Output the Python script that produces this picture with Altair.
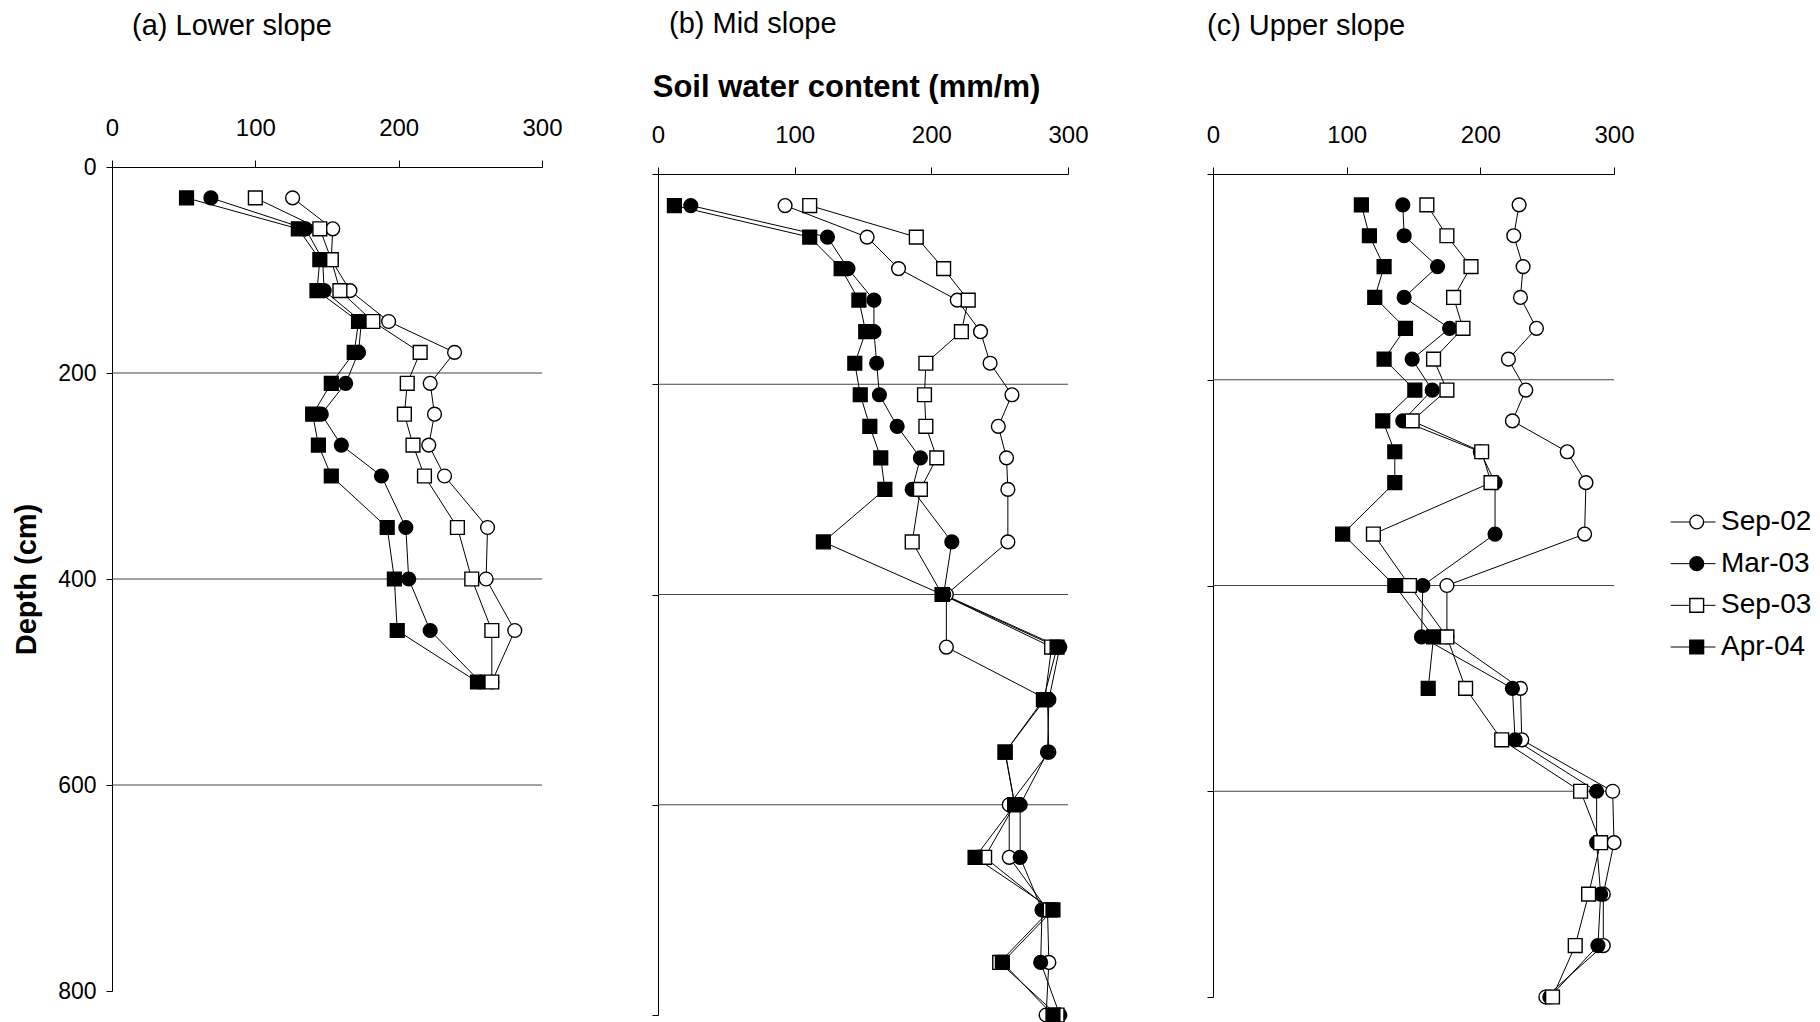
import altair as alt
import pandas as pd

# ---------------- data ----------------
series = ["Sep-02", "Mar-03", "Sep-03", "Apr-04"]
shapes = ["circle", "circle", "square", "square"]
fills = ["white", "black", "white", "black"]

# (a) Lower slope
depth_a = [30, 60, 90, 120, 150, 180, 210, 240, 270, 300, 350, 400, 450, 500]
a_sep02 = [126, 154, 153, 166, 193, 239, 222, 225, 221, 232, 262, 261, 281, 265]
a_mar03 = [69, 135, 147, 148, 174, 172, 163, 146, 160, 188, 205, 207, 222, 257]
a_sep03 = [100, 145, 153, 159, 182, 215, 206, 204, 210, 218, 241, 251, 265, 265]
a_apr04 = [52, 130, 145, 143, 172, 169, 153, 140, 144, 153, 192, 197, 199, 255]

# (b) Mid slope
depth_b = [30, 60, 90, 120, 150, 180, 210, 240, 270, 300,
           350, 400, 450, 500, 550, 600, 650, 700, 750, 800]
b_sep02 = [93, 153, 176, 219, 236, 243, 259, 249, 255, 256,
           256, 211, 211, 285, 286, 257, 257, 285, 286, 284]
b_mar03 = [24, 124, 139, 158, 158, 160, 162, 175, 192, 186,
           215, 209, 294, 286, 285, 265, 265, 281, 280, 294]
b_sep03 = [111, 189, 209, 227, 222, 196, 195, 196, 204, 192,
           186, 208, 288, 283, 254, 261, 239, 287, 250, 292]
b_apr04 = [12, 111, 134, 147, 152, 144, 148, 155, 163, 166,
           121, 208, 292, 282, 254, 261, 232, 289, 252, 289]

# (c) Upper slope
depth_c = depth_b
c_sep02 = [229, 225, 232, 230, 242, 221, 234, 224, 265, 279,
           278, 175, 175, 230, 231, 299, 300, 292, 292, 249]
c_mar03 = [142, 143, 168, 143, 177, 149, 164, 142, 200, 211,
           211, 157, 156, 224, 226, 287, 287, 290, 288, 252]
c_sep03 = [160, 175, 193, 180, 187, 165, 175, 149, 201, 208,
           120, 147, 175, 189, 216, 275, 290, 281, 271, 254]
c_apr04 = [111, 117, 128, 121, 144, 128, 151, 127, 136, 136,
           97, 136, 165, 161]

x_ticks = [0, 100, 200, 300]
y_ticks = [0, 200, 400, 600, 800]
grid_depths = [200, 400, 600]

FONT = "Liberation Sans"


def make_df(depths, cols):
    rows = []
    for s, vals in zip(series, cols):
        for d, v in zip(depths, vals):
            rows.append({"series": s, "depth": d, "swc": v})
    return pd.DataFrame(rows)


df_a = make_df(depth_a, [a_sep02, a_mar03, a_sep03, a_apr04])
df_b = make_df(depth_b, [b_sep02, b_mar03, b_sep03, b_apr04])
df_c = make_df(depth_c, [c_sep02, c_mar03, c_sep03, c_apr04])
grid_df = pd.DataFrame({"depth": grid_depths})

shape_scale = alt.Scale(domain=series, range=shapes)
fill_scale = alt.Scale(domain=series, range=fills)

MSIZE = 190


def panel(df, width, height, yrange, title, title_dx, title_offset,
          y_labels, x_title, x_offset):
    xaxis_kw = dict(orient="top", values=x_ticks, tickSize=7, labelPadding=20,
                    labelFontSize=24, labelFlush=False, grid=False,
                    domainColor="black", tickColor="black", labelColor="black")
    if x_offset:
        xaxis_kw["offset"] = x_offset
    if x_title:
        xaxis_kw.update(title=x_title, titleFontSize=31, titleFontWeight="bold",
                        titlePadding=19.5, titleColor="black", titleX=188)
    else:
        xaxis_kw["title"] = None
    yaxis_kw = dict(orient="left", values=y_ticks, tickSize=6, grid=False,
                    domainColor="black", tickColor="black")
    if y_labels:
        yaxis_kw.update(labels=True, labelFontSize=23, labelPadding=10,
                        labelFlush=False, labelColor="black",
                        title="Depth (cm)", titleFontSize=29,
                        titleFontWeight="bold", titlePadding=16,
                        titleColor="black")
    else:
        yaxis_kw.update(labels=False, title=None)

    xenc = alt.X("swc:Q", scale=alt.Scale(domain=[0, 300], nice=False, zero=False),
                 axis=alt.Axis(**xaxis_kw))
    yenc = alt.Y("depth:Q", scale=alt.Scale(domain=[0, 800], range=yrange,
                                            nice=False, zero=False),
                 axis=alt.Axis(**yaxis_kw))

    grid = alt.Chart(grid_df).mark_rule(color="#444444", strokeWidth=1).encode(y=yenc)
    lines = alt.Chart(df).mark_line(color="black", strokeWidth=1).encode(
        x=xenc, y=yenc, detail="series:N", order=alt.Order("depth:Q"))
    pts = alt.Chart(df).mark_point(filled=True, size=MSIZE, stroke="black",
                                   strokeWidth=1.4, opacity=1).encode(
        x=xenc, y=yenc,
        shape=alt.Shape("series:N", scale=shape_scale, legend=None),
        fill=alt.Fill("series:N", scale=fill_scale, legend=None))
    return alt.layer(grid, lines, pts).properties(
        width=width, height=height,
        title=alt.Title(title, anchor="start", frame="group", dx=title_dx,
                        offset=title_offset, fontSize=29, fontWeight="normal",
                        font=FONT, color="black"))


pa = panel(df_a, 430, 824, [0, 824], "(a) Lower slope", 20, 75, True, None, 0)
pb = panel(df_b, 410, 848, [7, 848], "(b) Mid slope", 11, 32.5, False,
           "Soil water content (mm/m)", -7)
pc = panel(df_c, 401, 830, [7, 830], "(c) Upper slope", -6, 82, False, None, -7)

# ---------------- legend ----------------
leg_df = pd.DataFrame({"series": series})
ly = alt.Y("series:N", sort=series,
           scale=alt.Scale(type="point", range=[355, 480], padding=0), axis=None)
leg_rule = alt.Chart(leg_df).mark_rule(color="black", strokeWidth=1).encode(
    y=ly, x=alt.value(20.7), x2=alt.value(65.5))
leg_pts = alt.Chart(leg_df).mark_point(filled=True, size=MSIZE, stroke="black",
                                       strokeWidth=1.4, opacity=1).encode(
    y=ly, x=alt.value(46.7),
    shape=alt.Shape("series:N", scale=shape_scale, legend=None),
    fill=alt.Fill("series:N", scale=fill_scale, legend=None))
leg_txt = alt.Chart(leg_df).mark_text(align="left", baseline="middle", fontSize=28,
                                      font=FONT, color="black").encode(
    y=ly, x=alt.value(71), text="series:N")
legend = alt.layer(leg_rule, leg_pts, leg_txt).properties(width=150, height=824)

inner2 = alt.hconcat(pc, legend, spacing=36, bounds="flush")
inner1 = alt.hconcat(pb, inner2, spacing=145, bounds="flush")
chart = alt.hconcat(pa, inner1, spacing=116, bounds="flush").properties(
    padding={"left": 4, "top": 2, "right": 0, "bottom": 0}
).configure_view(strokeWidth=0).configure_axis(
    labelFont=FONT, titleFont=FONT, domainWidth=1, tickWidth=1
).configure_title(font=FONT)

chart.save("out.html", embed_options={"renderer": "svg", "actions": False})
